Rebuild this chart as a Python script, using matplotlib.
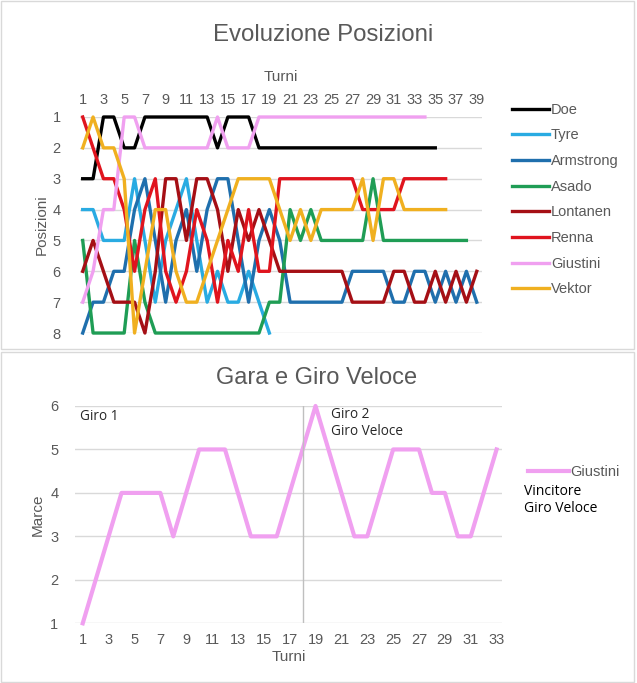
import matplotlib.pyplot as plt
from matplotlib.patches import Rectangle

plt.rcParams['font.family'] = ['Liberation Sans', 'DejaVu Sans']

# --- dati: posizioni per turno ---
turni = list(range(1, 40))
piloti = ['Doe', 'Tyre', 'Armstrong', 'Asado', 'Lontanen', 'Renna', 'Giustini', 'Vektor']
colori = ['#000000', '#29abe2', '#1f6fad', '#1f9d55', '#a50f15', '#e0141e', '#f0a0f0', '#f0b020']

doe = [3, 3, 1, 1, 2, 2, 1, 1, 1, 1, 1, 1, 1, 2, 1, 1, 1,
       2, 2, 2, 2, 2, 2, 2, 2, 2, 2, 2, 2, 2, 2, 2, 2, 2, 2]
tyre = [4, 4, 5, 5, 5, 3, 5, 7, 5, 4, 3, 5, 7, 6, 7, 7, 6, 7, 8]
armstrong = [8, 7, 7, 6, 6, 4, 3, 5, 7, 5,
             4, 6, 4, 3, 3, 5, 7, 5, 4, 5,
             7, 7, 7, 7, 7, 7, 6, 6, 6, 6,
             7, 7, 6, 6, 7, 6, 7, 6, 7]
asado = [5, 8, 8, 8, 8, 5, 7, 8, 8, 8,
         8, 8, 8, 8, 8, 8, 8, 8, 7, 7,
         4, 5, 4, 5, 5, 5, 5, 5, 3, 5,
         5, 5, 5, 5, 5, 5, 5, 5]
lontanen = [6, 5, 6, 7, 7, 7, 8, 6, 3, 3,
            5, 3, 3, 4, 6, 4, 5, 4, 5, 6,
            6, 6, 6, 6, 6, 6, 7, 7, 7, 7,
            6, 6, 7, 7, 6, 7, 6, 7, 6]
renna = [1, 2, 3, 3, 4, 6, 4, 3, 6, 7,
         6, 4, 5, 7, 5, 6, 4, 6, 6, 3,
         3, 3, 3, 3, 3, 3, 3, 4, 4, 4,
         4, 3, 3, 3, 3, 3]
giustini = [7, 6, 4, 4, 1, 1, 2, 2, 2, 2, 2, 2, 2, 1, 2, 2, 2,
            1, 1, 1, 1, 1, 1, 1, 1, 1, 1, 1, 1, 1, 1, 1, 1, 1]
vektor = [2, 1, 2, 2, 3, 8, 6, 4, 4, 6,
          7, 7, 6, 5, 4, 3, 3, 3, 3, 4,
          5, 4, 5, 4, 4, 4, 4, 3, 5, 3,
          3, 4, 4, 4, 4, 4]
posizioni = [doe, tyre, armstrong, asado, lontanen, renna, giustini, vektor]

# --- dati: marce di Giustini ---
turni_gara = list(range(1, 34))
marce = [1, 2, 3, 4, 4, 4, 4, 3, 4, 5, 5, 5, 4, 3, 3, 3, 4, 5, 6, 5,
         4, 3, 3, 4, 5, 5, 5, 4, 4, 3, 3, 4, 5]
turno_giro2 = 18

grigio = '#595959'

fig = plt.figure(figsize=(6.37, 6.83), dpi=100)

# cornici dei due grafici
fig.patches.append(Rectangle((0.002, 0.489), 0.994, 0.509, transform=fig.transFigure,
                             fill=False, edgecolor='#d9d9d9', lw=1))
fig.patches.append(Rectangle((0.002, 0.002), 0.994, 0.483, transform=fig.transFigure,
                             fill=False, edgecolor='#d9d9d9', lw=1))

# ---------------- grafico 1 ----------------
ax1 = fig.add_axes([0.1256, 0.5124, 0.631, 0.3163])
for nome, pos, col in zip(piloti, posizioni, colori):
    ax1.plot(turni[:len(pos)], pos, color=col, lw=2.4, label=nome, clip_on=False)
ax1.set_ylim(8, 1)
ax1.set_xlim(0.74, 39.5)
ax1.set_yticks(range(1, 9))
ax1.set_xticks(range(1, 40, 2))
ax1.xaxis.tick_top()
ax1.xaxis.set_label_position('top')
ax1.set_xlabel('Turni', color=grigio, fontsize=11, labelpad=9)
ax1.set_ylabel('Posizioni', color=grigio, fontsize=11, labelpad=3)
ax1.grid(axis='y', color='#d9d9d9', lw=1)
ax1.set_axisbelow(True)
ax1.tick_params(length=0, colors=grigio, labelsize=10.5)
ax1.tick_params(axis='x', pad=7)
ax1.tick_params(axis='y', pad=14)
for s in ax1.spines.values():
    s.set_visible(False)
ax1.legend(loc='upper left', bbox_to_anchor=(0.795, 0.858), bbox_transform=fig.transFigure,
           frameon=False, fontsize=10.5, handlelength=2.5, handletextpad=0.15,
           labelspacing=0.8, labelcolor=grigio, borderaxespad=0)
fig.text(0.507, 0.949, 'Evoluzione Posizioni', ha='center', va='center',
         fontsize=17.3, color=grigio)

# ---------------- grafico 2 ----------------
ax2 = fig.add_axes([0.1177, 0.0874, 0.670, 0.3182])
ax2.plot(turni_gara, marce, color='#f0a0f0', lw=3, label='Giustini', clip_on=False)
ax2.axvline(turno_giro2, color='#bfbfbf', lw=1)
ax2.set_ylim(1, 6)
ax2.set_xlim(0.4, 33.4)
ax2.set_yticks(range(1, 7))
ax2.set_xticks(range(1, 34, 2))
ax2.set_xlabel('Turni', color=grigio, fontsize=11, labelpad=2)
ax2.set_ylabel('Marce', color=grigio, fontsize=11, labelpad=4)
ax2.grid(axis='y', color='#d9d9d9', lw=1)
ax2.set_axisbelow(True)
ax2.tick_params(length=0, colors=grigio, labelsize=10.5)
ax2.tick_params(axis='x', pad=7)
ax2.tick_params(axis='y', pad=12)
for s in ax2.spines.values():
    s.set_visible(False)
ax2.text(0.75, 5.93, 'Giro 1', fontsize=9.8, family='Open Sans', color='#262626', va='top')
ax2.text(20.2, 5.97, 'Giro 2\nGiro Veloce', fontsize=9.8, family='Open Sans',
         color='#262626', va='top', linespacing=1.15)
ax2.legend(loc='upper left', bbox_to_anchor=(0.82, 0.327), bbox_transform=fig.transFigure,
           frameon=False, fontsize=10.5, handlelength=2.8, handletextpad=0.1,
           labelcolor=grigio, borderaxespad=0)
fig.text(0.822, 0.268, 'Vincitore\nGiro Veloce', fontsize=10, family='Open Sans',
         color='#000000', va='center', linespacing=1.15)
fig.text(0.497, 0.447, 'Gara e Giro Veloce', ha='center', va='center',
         fontsize=17, color=grigio)

fig.savefig('out.png', dpi=100, facecolor='white')
